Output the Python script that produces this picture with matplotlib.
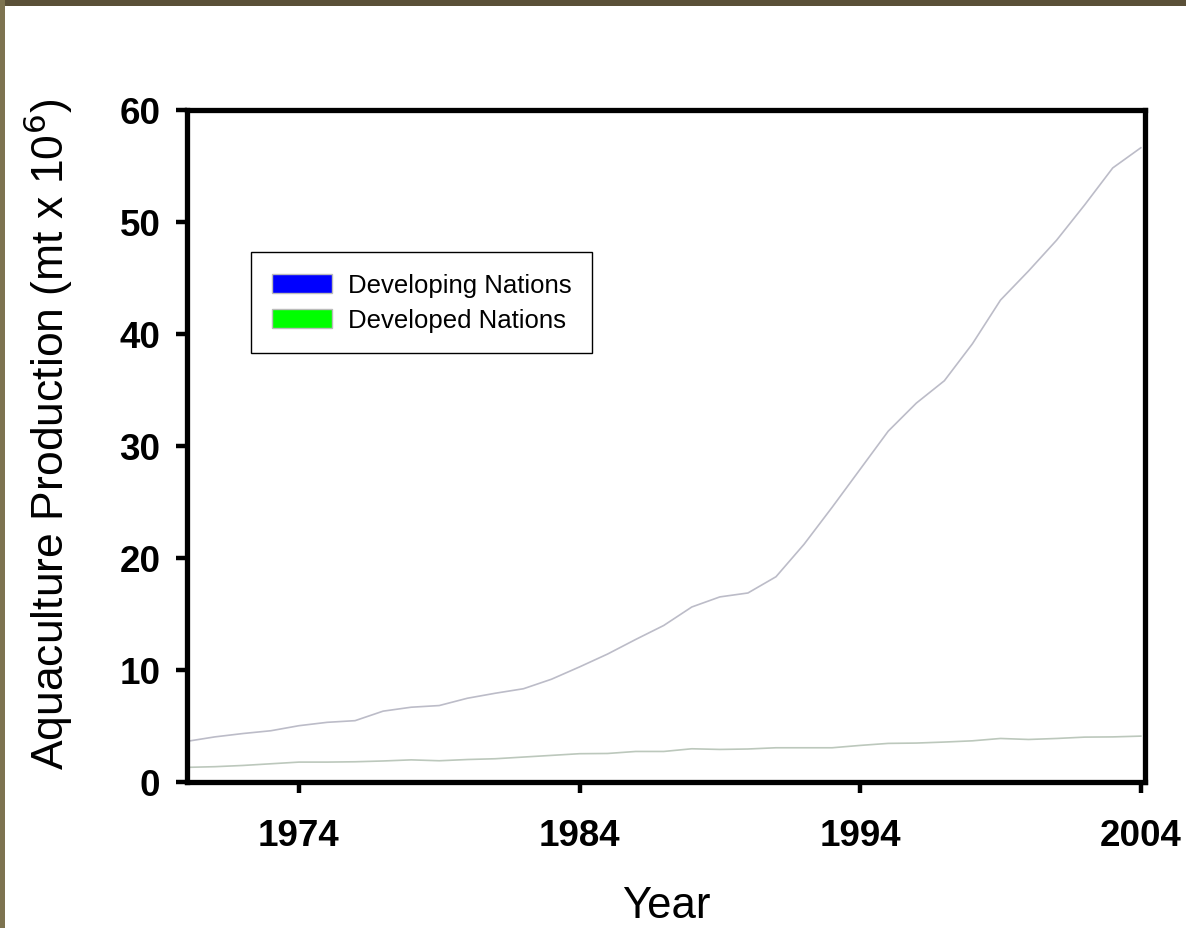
import matplotlib
matplotlib.use("Agg")
import matplotlib.pyplot as plt
from matplotlib.patches import Patch, Rectangle

plt.rcParams['font.family'] = ['Liberation Sans', 'DejaVu Sans']

# aquaculture production, million tonnes
years = list(range(1970, 2005))
developing = [3.6, 4.0, 4.3, 4.55, 5.0, 5.3, 5.45, 6.3, 6.65, 6.8, 7.45, 7.9, 8.3, 9.15,
              10.25, 11.4, 12.7, 13.95, 15.6, 16.5, 16.85, 18.3, 21.2, 24.5, 27.9,
              31.3, 33.8, 35.8, 39.1, 43.0, 45.6, 48.35, 51.5, 54.8, 56.6]
developed = [1.28, 1.34, 1.45, 1.6, 1.75, 1.75, 1.78, 1.85, 1.95, 1.87, 1.98, 2.05, 2.2,
             2.35, 2.5, 2.52, 2.7, 2.7, 2.94, 2.88, 2.92, 3.03, 3.03, 3.03, 3.24,
             3.42, 3.45, 3.54, 3.65, 3.86, 3.77, 3.86, 3.98, 4.0, 4.07]
series_names = ['Developing Nations', 'Developed Nations']
legend_colors = ['#0000ff', '#00ff00']
x_ticks = [1974, 1984, 1994, 2004]
y_ticks = [0, 10, 20, 30, 40, 50, 60]

fig = plt.figure(figsize=(11.86, 9.29), dpi=100)
fig.patch.set_facecolor('white')

# textured slide frame at top and left
fig.patches.append(Rectangle((0, 1 - 7 / 929), 1, 7 / 929, transform=fig.transFigure,
                             facecolor='#5a5038', edgecolor='none', zorder=0))
fig.patches.append(Rectangle((0, 0), 5 / 1186, 1, transform=fig.transFigure,
                             facecolor='#7d7350', edgecolor='none', zorder=0))

ax = fig.add_axes([186.7 / 1186, 1 - 782.7 / 929, 958.3 / 1186, 672 / 929])

ax.plot(years, developing, color='#bcbcc8', lw=1.2)
ax.plot(years, developed, color='#bcc8bc', lw=1.2)

ax.set_xlim(1970, 2004.15)
ax.set_ylim(0, 60)
ax.set_xticks(x_ticks)
ax.set_yticks(y_ticks)

for s in ax.spines.values():
    s.set_linewidth(3.8)
ax.tick_params(direction='out', length=8, width=3.2, labelsize=26.5, pad=11)
ax.tick_params(axis='x', pad=18)
for lab in ax.get_xticklabels() + ax.get_yticklabels():
    lab.set_fontweight('bold')

ax.set_xlabel('Year', fontsize=31.5, labelpad=23)
ax.set_ylabel('Aquaculture Production (mt x 10$^6$)', fontsize=32, labelpad=32)
ax.yaxis.label.set_y(0.518)

handles = [Patch(facecolor=c, edgecolor='#bbbbbb', lw=1) for c in legend_colors]
leg = ax.legend(handles, series_names, loc='upper left', bbox_to_anchor=(0.067, 0.788),
                borderaxespad=0, fontsize=18.5, handlelength=2.33, handleheight=0.78,
                handletextpad=0.62, borderpad=0.82, labelspacing=0.43,
                frameon=True, fancybox=False, edgecolor='black', framealpha=1)
leg.get_frame().set_linewidth(1)

fig.savefig('out.png', dpi=100, facecolor=fig.get_facecolor())
